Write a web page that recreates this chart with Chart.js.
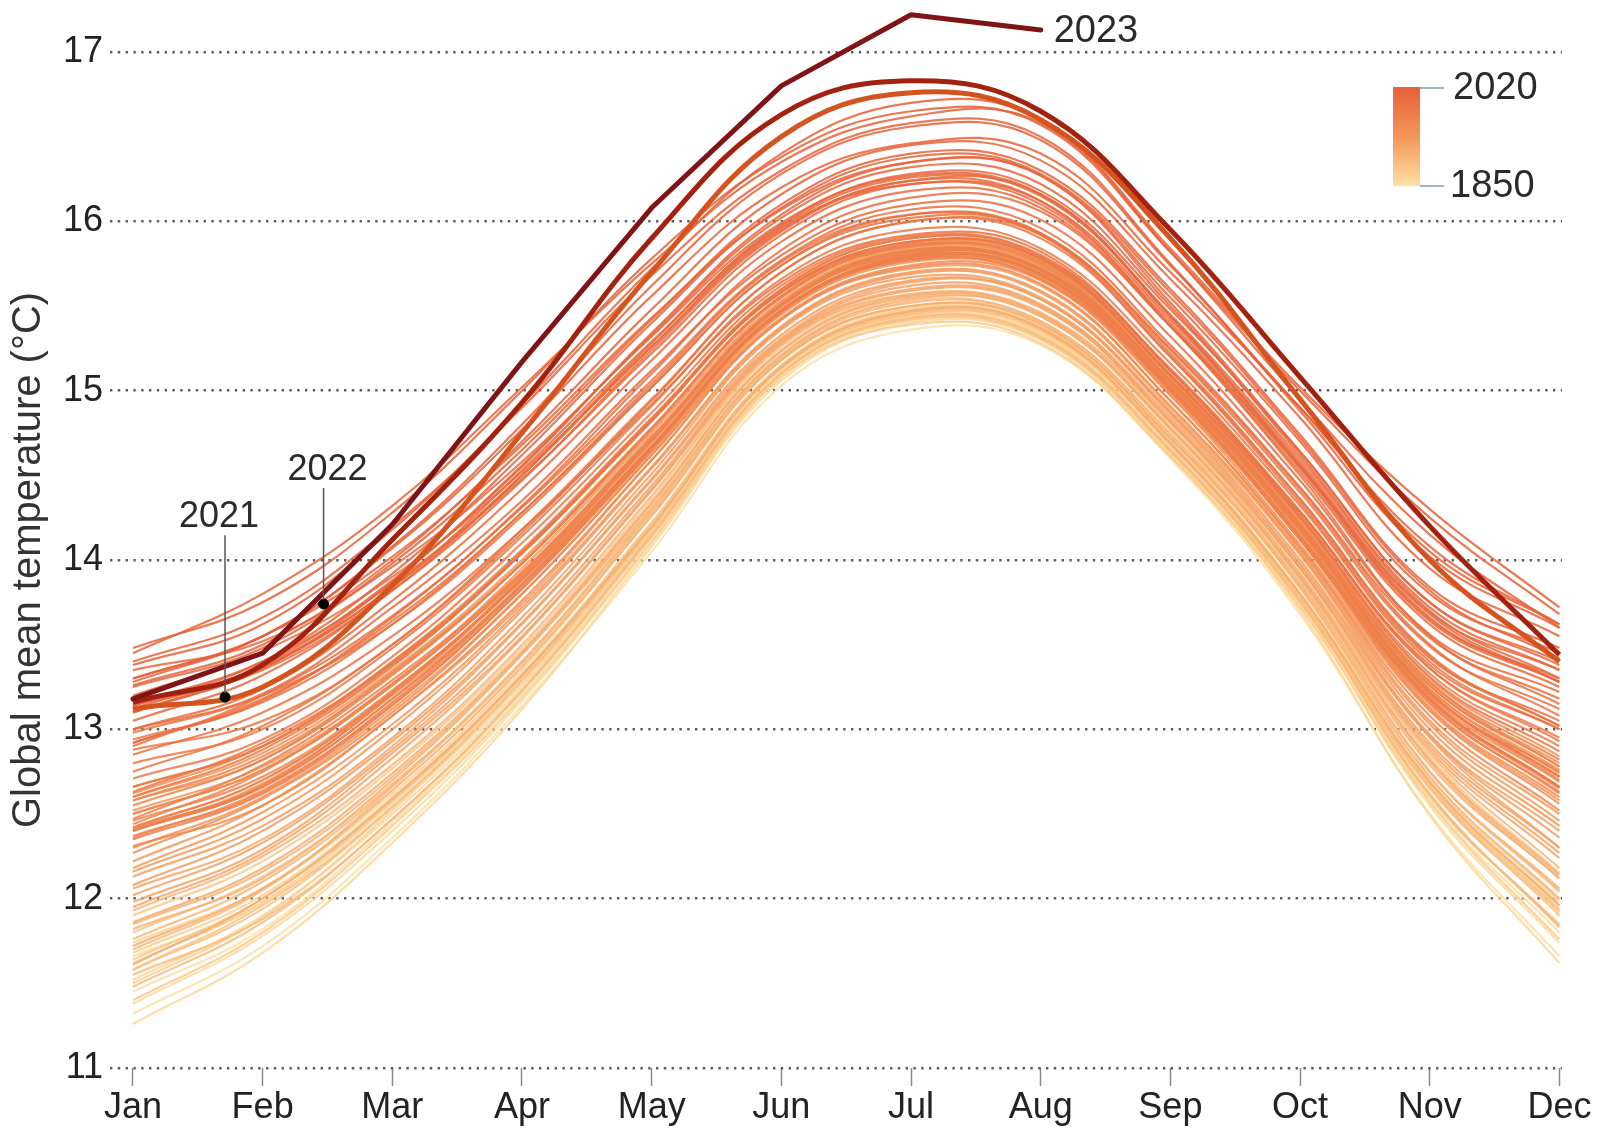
<!DOCTYPE html>
<html>
<head>
<meta charset="utf-8">
<script src="https://cdn.jsdelivr.net/npm/chart.js@4.4.0/dist/chart.umd.min.js"></script>
<style>
  html, body { margin: 0; padding: 0; background: #fff; }
  #wrap { width: 1598px; height: 1131px; }
</style>
</head>
<body>
<div id="wrap"><canvas id="chart" width="1598" height="1131"></canvas></div>
<script>
// Meses y escala
const months = ['Jan', 'Feb', 'Mar', 'Apr', 'May', 'Jun', 'Jul', 'Aug', 'Sep', 'Oct', 'Nov', 'Dec'];
const yTicks = [11, 12, 13, 14, 15, 16, 17];

// Temperatura media global mensual (°C), una curva por año (muestra de años)
const t1850 = [11.32, 11.72, 12.36, 13.14, 14.05, 15.03, 15.36, 15.27, 14.60, 13.68, 12.50, 11.66];
const t1852 = [11.45, 11.82, 12.45, 13.21, 14.13, 15.10, 15.43, 15.32, 14.65, 13.75, 12.58, 11.80];
const t1855 = [11.66, 11.97, 12.55, 13.30, 14.22, 15.13, 15.46, 15.37, 14.71, 13.80, 12.66, 11.98];
const t1857 = [11.38, 11.78, 12.40, 13.17, 14.10, 15.08, 15.41, 15.30, 14.63, 13.73, 12.55, 11.74];
const t1860 = [11.26, 11.68, 12.33, 13.12, 14.08, 15.06, 15.40, 15.30, 14.62, 13.70, 12.49, 11.62];
const t1862 = [11.52, 11.90, 12.50, 13.25, 14.16, 15.11, 15.44, 15.33, 14.66, 13.77, 12.60, 11.85];
const t1865 = [11.74, 12.06, 12.62, 13.35, 14.27, 15.18, 15.49, 15.38, 14.74, 13.83, 12.70, 11.99];
const t1868 = [11.68, 12.02, 12.60, 13.33, 14.22, 15.15, 15.47, 15.36, 14.69, 13.80, 12.68, 11.96];
const t1870 = [11.50, 11.89, 12.52, 13.27, 14.16, 15.11, 15.45, 15.34, 14.65, 13.78, 12.61, 11.84];
const t1873 = [11.62, 11.98, 12.57, 13.31, 14.20, 15.14, 15.46, 15.35, 14.68, 13.79, 12.66, 11.93];
const t1875 = [11.40, 11.80, 12.43, 13.19, 14.11, 15.08, 15.39, 15.28, 14.61, 13.72, 12.57, 11.76];
const t1878 = [11.90, 12.22, 12.77, 13.48, 14.36, 15.26, 15.57, 15.46, 14.80, 13.92, 12.84, 12.15];
const t1880 = [11.80, 12.13, 12.68, 13.40, 14.30, 15.21, 15.53, 15.41, 14.75, 13.88, 12.75, 12.04];
const t1882 = [11.64, 12.00, 12.58, 13.32, 14.22, 15.15, 15.48, 15.37, 14.70, 13.80, 12.67, 11.94];
const t1885 = [11.58, 11.96, 12.54, 13.29, 14.18, 15.13, 15.45, 15.36, 14.68, 13.78, 12.65, 11.92];
const t1888 = [11.58, 11.94, 12.54, 13.29, 14.19, 15.14, 15.46, 15.36, 14.68, 13.79, 12.66, 11.90];
const t1890 = [11.55, 11.88, 12.47, 13.23, 14.14, 15.10, 15.42, 15.31, 14.64, 13.75, 12.62, 11.83];
const t1893 = [11.48, 11.86, 12.47, 13.23, 14.15, 15.10, 15.43, 15.32, 14.65, 13.76, 12.61, 11.84];
const t1895 = [11.70, 12.05, 12.66, 13.39, 14.28, 15.19, 15.50, 15.40, 14.72, 13.86, 12.75, 12.05];
const t1898 = [11.76, 12.10, 12.67, 13.40, 14.29, 15.20, 15.52, 15.41, 14.74, 13.86, 12.75, 12.06];
const t1900 = [11.93, 12.25, 12.79, 13.50, 14.38, 15.27, 15.57, 15.46, 14.81, 13.92, 12.86, 12.18];
const t1902 = [11.85, 12.16, 12.72, 13.45, 14.33, 15.23, 15.55, 15.44, 14.78, 13.90, 12.81, 12.12];
const t1905 = [11.82, 12.12, 12.70, 13.44, 14.31, 15.21, 15.54, 15.44, 14.77, 13.89, 12.79, 12.12];
const t1908 = [11.72, 12.06, 12.64, 13.37, 14.26, 15.18, 15.50, 15.39, 14.72, 13.84, 12.72, 12.00];
const t1910 = [11.61, 12.00, 12.59, 13.32, 14.20, 15.14, 15.47, 15.37, 14.69, 13.80, 12.69, 11.96];
const t1912 = [11.86, 12.18, 12.74, 13.46, 14.34, 15.24, 15.56, 15.45, 14.78, 13.90, 12.82, 12.14];
const t1915 = [12.06, 12.35, 12.90, 13.62, 14.47, 15.31, 15.64, 15.54, 14.86, 13.98, 12.95, 12.30];
const t1918 = [11.95, 12.27, 12.83, 13.54, 14.41, 15.28, 15.59, 15.49, 14.82, 13.95, 12.88, 12.24];
const t1920 = [11.98, 12.29, 12.86, 13.55, 14.42, 15.29, 15.60, 15.50, 14.82, 13.95, 12.90, 12.27];
const t1922 = [12.02, 12.33, 12.88, 13.58, 14.44, 15.30, 15.62, 15.51, 14.84, 13.97, 12.92, 12.30];
const t1925 = [12.13, 12.43, 12.95, 13.66, 14.51, 15.36, 15.67, 15.55, 14.88, 14.03, 12.97, 12.40];
const t1928 = [12.08, 12.40, 12.93, 13.63, 14.48, 15.33, 15.65, 15.54, 14.87, 14.00, 12.96, 12.36];
const t1930 = [12.22, 12.55, 13.08, 13.74, 14.59, 15.42, 15.72, 15.62, 14.94, 14.07, 13.05, 12.50];
const t1932 = [12.16, 12.47, 13.00, 13.70, 14.54, 15.37, 15.69, 15.58, 14.90, 14.04, 13.00, 12.43];
const t1935 = [12.18, 12.51, 13.03, 13.72, 14.55, 15.38, 15.70, 15.59, 14.91, 14.05, 13.03, 12.46];
const t1937 = [12.30, 12.60, 13.12, 13.80, 14.62, 15.45, 15.76, 15.66, 14.98, 14.12, 13.12, 12.58];
const t1939 = [12.40, 12.68, 13.20, 13.86, 14.68, 15.48, 15.79, 15.70, 15.03, 14.17, 13.19, 12.66];
const t1940 = [12.52, 12.78, 13.27, 13.95, 14.75, 15.53, 15.84, 15.73, 15.05, 14.20, 13.24, 12.76];
const t1941 = [12.60, 12.86, 13.35, 14.00, 14.78, 15.55, 15.86, 15.76, 15.08, 14.22, 13.26, 12.80];
const t1943 = [12.50, 12.76, 13.26, 13.92, 14.72, 15.50, 15.82, 15.72, 15.04, 14.18, 13.22, 12.72];
const t1944 = [12.62, 12.90, 13.40, 14.04, 14.82, 15.60, 15.90, 15.80, 15.12, 14.26, 13.30, 12.84];
const t1945 = [12.58, 12.82, 13.34, 13.98, 14.77, 15.56, 15.85, 15.76, 15.08, 14.21, 13.28, 12.78];
const t1948 = [12.36, 12.64, 13.15, 13.83, 14.64, 15.46, 15.77, 15.67, 14.99, 14.12, 13.13, 12.60];
const t1950 = [12.27, 12.59, 13.10, 13.80, 14.62, 15.43, 15.74, 15.65, 14.97, 14.09, 13.11, 12.56];
const t1952 = [12.40, 12.66, 13.18, 13.85, 14.66, 15.47, 15.78, 15.68, 15.00, 14.13, 13.16, 12.62];
const t1953 = [12.50, 12.76, 13.26, 13.92, 14.72, 15.52, 15.83, 15.72, 15.04, 14.18, 13.22, 12.72];
const t1955 = [12.31, 12.55, 13.08, 13.76, 14.59, 15.42, 15.73, 15.63, 14.94, 14.07, 13.08, 12.52];
const t1957 = [12.42, 12.70, 13.22, 13.89, 14.70, 15.50, 15.81, 15.71, 15.05, 14.20, 13.24, 12.74];
const t1958 = [12.58, 12.84, 13.33, 13.98, 14.77, 15.55, 15.85, 15.74, 15.06, 14.19, 13.22, 12.72];
const t1960 = [12.44, 12.75, 13.27, 13.91, 14.71, 15.50, 15.81, 15.71, 15.04, 14.17, 13.20, 12.69];
const t1962 = [12.46, 12.72, 13.23, 13.89, 14.70, 15.50, 15.80, 15.69, 15.02, 14.15, 13.18, 12.66];
const t1963 = [12.42, 12.70, 13.22, 13.90, 14.71, 15.51, 15.82, 15.72, 15.06, 14.20, 13.22, 12.70];
const t1965 = [12.37, 12.63, 13.16, 13.85, 14.66, 15.47, 15.77, 15.66, 15.00, 14.12, 13.15, 12.63];
const t1967 = [12.40, 12.66, 13.18, 13.86, 14.67, 15.48, 15.78, 15.68, 15.01, 14.14, 13.17, 12.65];
const t1969 = [12.55, 12.82, 13.32, 13.98, 14.78, 15.56, 15.87, 15.77, 15.09, 14.24, 13.28, 12.82];
const t1970 = [12.47, 12.79, 13.29, 13.93, 14.73, 15.51, 15.83, 15.71, 15.03, 14.18, 13.21, 12.75];
const t1972 = [12.35, 12.62, 13.14, 13.83, 14.65, 15.47, 15.80, 15.72, 15.06, 14.22, 13.26, 12.78];
const t1973 = [12.66, 12.90, 13.38, 14.04, 14.82, 15.58, 15.86, 15.75, 15.06, 14.20, 13.22, 12.72];
const t1975 = [12.41, 12.67, 13.21, 13.88, 14.67, 15.47, 15.79, 15.69, 15.01, 14.14, 13.18, 12.66];
const t1977 = [12.66, 12.90, 13.40, 14.06, 14.84, 15.59, 15.88, 15.78, 15.10, 14.26, 13.33, 12.90];
const t1979 = [12.60, 12.88, 13.37, 14.05, 14.83, 15.60, 15.90, 15.79, 15.12, 14.28, 13.36, 12.95];
const t1980 = [12.71, 12.94, 13.43, 14.10, 14.87, 15.62, 15.91, 15.80, 15.13, 14.29, 13.36, 12.93];
const t1981 = [12.80, 13.00, 13.48, 14.14, 14.91, 15.66, 15.95, 15.84, 15.16, 14.32, 13.40, 13.00];
const t1983 = [12.88, 13.05, 13.50, 14.18, 14.95, 15.70, 16.00, 15.90, 15.20, 14.36, 13.44, 13.02];
const t1985 = [12.63, 12.92, 13.39, 14.04, 14.83, 15.58, 15.88, 15.78, 15.09, 14.25, 13.31, 12.87];
const t1987 = [12.75, 13.02, 13.50, 14.16, 14.94, 15.70, 16.00, 15.92, 15.25, 14.42, 13.50, 13.08];
const t1988 = [12.98, 13.20, 13.62, 14.26, 15.02, 15.74, 16.04, 15.93, 15.22, 14.36, 13.43, 13.02];
const t1990 = [12.94, 13.16, 13.62, 14.28, 15.02, 15.74, 16.02, 15.93, 15.24, 14.40, 13.49, 13.12];
const t1991 = [12.92, 13.18, 13.64, 14.28, 15.04, 15.76, 16.04, 15.92, 15.20, 14.34, 13.42, 13.05];
const t1992 = [12.85, 13.10, 13.55, 14.18, 14.92, 15.64, 15.92, 15.82, 15.12, 14.28, 13.38, 13.00];
const t1995 = [12.90, 13.20, 13.67, 14.31, 15.06, 15.77, 16.07, 15.96, 15.27, 14.43, 13.54, 13.18];
const t1997 = [12.92, 13.17, 13.66, 14.32, 15.10, 15.83, 16.14, 16.06, 15.38, 14.55, 13.65, 13.30];
const t1998 = [13.20, 13.46, 13.90, 14.52, 15.26, 15.95, 16.24, 16.12, 15.38, 14.50, 13.55, 13.15];
const t2000 = [13.00, 13.21, 13.72, 14.35, 15.12, 15.80, 16.10, 16.01, 15.32, 14.47, 13.56, 13.22];
const t2001 = [13.00, 13.24, 13.76, 14.42, 15.18, 15.88, 16.18, 16.08, 15.38, 14.52, 13.62, 13.25];
const t2002 = [13.15, 13.40, 13.86, 14.48, 15.22, 15.92, 16.22, 16.10, 15.40, 14.54, 13.64, 13.28];
const t2003 = [13.14, 13.35, 13.82, 14.47, 15.24, 15.94, 16.24, 16.16, 15.45, 14.60, 13.70, 13.30];
const t2004 = [13.10, 13.36, 13.84, 14.50, 15.26, 15.96, 16.22, 16.12, 15.42, 14.56, 13.68, 13.28];
const t2005 = [13.10, 13.37, 13.84, 14.53, 15.29, 15.97, 16.26, 16.15, 15.44, 14.58, 13.69, 13.35];
const t2006 = [13.05, 13.32, 13.82, 14.50, 15.28, 15.98, 16.28, 16.18, 15.48, 14.64, 13.75, 13.40];
const t2007 = [13.35, 13.52, 13.96, 14.58, 15.32, 15.99, 16.27, 16.16, 15.44, 14.56, 13.66, 13.28];
const t2009 = [13.12, 13.38, 13.88, 14.55, 15.34, 16.04, 16.35, 16.27, 15.55, 14.70, 13.80, 13.45];
const t2010 = [13.30, 13.55, 14.02, 14.68, 15.43, 16.07, 16.35, 16.27, 15.52, 14.64, 13.75, 13.38];
const t2011 = [13.10, 13.36, 13.87, 14.56, 15.33, 16.02, 16.32, 16.22, 15.50, 14.62, 13.72, 13.35];
const t2012 = [13.14, 13.40, 13.92, 14.62, 15.40, 16.08, 16.38, 16.28, 15.58, 14.72, 13.82, 13.42];
const t2013 = [13.25, 13.48, 13.98, 14.65, 15.42, 16.10, 16.40, 16.30, 15.60, 14.74, 13.84, 13.48];
const t2014 = [13.26, 13.50, 14.00, 14.70, 15.48, 16.16, 16.45, 16.36, 15.66, 14.84, 13.95, 13.55];
const t2015 = [13.28, 13.55, 14.07, 14.77, 15.56, 16.20, 16.46, 16.40, 15.70, 14.90, 14.05, 13.62];
const t2016 = [13.45, 13.80, 14.32, 15.02, 15.75, 16.35, 16.62, 16.58, 15.82, 14.95, 14.15, 13.60];
const t2017 = [13.40, 13.66, 14.20, 14.90, 15.68, 16.30, 16.58, 16.50, 15.75, 14.88, 14.02, 13.60];
const t2018 = [13.30, 13.55, 14.08, 14.80, 15.62, 16.28, 16.56, 16.48, 15.74, 14.90, 14.08, 13.62];
const t2019 = [13.38, 13.62, 14.18, 14.92, 15.72, 16.40, 16.70, 16.60, 15.84, 15.02, 14.30, 13.72];
const t2020 = [13.48, 13.75, 14.28, 15.00, 15.78, 16.38, 16.65, 16.57, 15.82, 15.00, 14.25, 13.68];

const bandYears = [1850, 1852, 1855, 1857, 1860, 1862, 1865, 1868, 1870, 1873, 1875, 1878, 1880,
  1882, 1885, 1888, 1890, 1893, 1895, 1898, 1900, 1902, 1905, 1908, 1910, 1912, 1915, 1918,
  1920, 1922, 1925, 1928, 1930, 1932, 1935, 1937, 1939, 1940, 1941, 1943, 1944, 1945, 1948,
  1950, 1952, 1953, 1955, 1957, 1958, 1960, 1962, 1963, 1965, 1967, 1969, 1970, 1972, 1973,
  1975, 1977, 1979, 1980, 1981, 1983, 1985, 1987, 1988, 1990, 1991, 1992, 1995, 1997, 1998,
  2000, 2001, 2002, 2003, 2004, 2005, 2006, 2007, 2009, 2010, 2011, 2012, 2013, 2014, 2015,
  2016, 2017, 2018, 2019, 2020];
const bandSeries = [t1850, t1852, t1855, t1857, t1860, t1862, t1865, t1868, t1870, t1873, t1875, t1878, t1880,
  t1882, t1885, t1888, t1890, t1893, t1895, t1898, t1900, t1902, t1905, t1908, t1910, t1912, t1915, t1918,
  t1920, t1922, t1925, t1928, t1930, t1932, t1935, t1937, t1939, t1940, t1941, t1943, t1944, t1945, t1948,
  t1950, t1952, t1953, t1955, t1957, t1958, t1960, t1962, t1963, t1965, t1967, t1969, t1970, t1972, t1973,
  t1975, t1977, t1979, t1980, t1981, t1983, t1985, t1987, t1988, t1990, t1991, t1992, t1995, t1997, t1998,
  t2000, t2001, t2002, t2003, t2004, t2005, t2006, t2007, t2009, t2010, t2011, t2012, t2013, t2014, t2015,
  t2016, t2017, t2018, t2019, t2020];

// Años destacados
const t2021 = [13.12, 13.25, 13.85, 14.75, 15.70, 16.50, 16.76, 16.60, 15.90, 14.95, 14.00, 13.40];
const t2022 = [13.16, 13.38, 14.12, 14.93, 15.90, 16.63, 16.83, 16.65, 15.95, 15.08, 14.20, 13.44];
const t2023 = [13.18, 13.45, 14.21, 15.17, 16.08, 16.80, 17.22, 17.13];

// Puntos de las etiquetas 2021 / 2022 (mes fraccional, °C)
const markerYears = ['2021', '2022'];
const markerX = [0.71, 1.47];
const markerY = [13.19, 13.74];

const FONT = '"Liberation Sans", Arial, sans-serif';

function pts(arr) {
  return arr.map((v, i) => ({ x: i, y: v }));
}

// Color de 1850 (amarillo claro) a 2020 (naranja rojizo)
function bandColor(year, alpha) {
  const stops = [[253, 224, 164], [244, 150, 88], [230, 96, 56]];
  const t = (year - 1850) / 170;
  const seg = t < 0.5 ? 0 : 1;
  const k = t < 0.5 ? t / 0.5 : (t - 0.5) / 0.5;
  const a = stops[seg], b = stops[seg + 1];
  const c = a.map((v, i) => Math.round(v + (b[i] - v) * k));
  return 'rgba(' + c[0] + ',' + c[1] + ',' + c[2] + ',' + (alpha || 0.85) + ')';
}

const datasets = bandSeries.map((arr, i) => ({
  label: String(bandYears[i]),
  data: pts(arr),
  borderColor: bandColor(bandYears[i]),
  borderWidth: 2.2,
  pointRadius: 0,
  tension: 0.4,
  order: 10 + (2020 - bandYears[i])
}));

datasets.push({
  label: '2021', data: pts(t2021), borderColor: '#d4531f', borderWidth: 5,
  pointRadius: 0, tension: 0.4, order: 3
});
datasets.push({
  label: '2022', data: pts(t2022), borderColor: '#a3220f', borderWidth: 5,
  pointRadius: 0, tension: 0.4, order: 2
});
datasets.push({
  label: '2023', data: pts(t2023), borderColor: '#7f1315', borderWidth: 5,
  pointRadius: 0, tension: 0, order: 1, clip: false, borderCapStyle: 'round', borderJoinStyle: 'round'
});
datasets.push({
  type: 'scatter',
  label: 'markers',
  data: markerX.map((x, i) => ({ x: x, y: markerY[i] })),
  backgroundColor: '#000',
  borderColor: '#000',
  pointRadius: 5,
  order: 0
});

// Etiquetas, líneas guía y leyenda de color
const decorations = {
  id: 'decorations',
  afterDatasetsDraw(chart) {
    const ctx = chart.ctx;
    const xs = chart.scales.x, ys = chart.scales.y;
    ctx.save();
    ctx.font = '36px ' + FONT;
    ctx.fillStyle = '#2a2a2a';
    ctx.textAlign = 'center';
    ctx.textBaseline = 'alphabetic';

    const leader = [162, 116];
    const labelDx = [-6, 4];
    markerYears.forEach((yr, i) => {
      const px = xs.getPixelForValue(markerX[i]);
      const py = ys.getPixelForValue(markerY[i]);
      ctx.strokeStyle = '#555';
      ctx.lineWidth = 1.5;
      ctx.beginPath();
      ctx.moveTo(px, py - 4);
      ctx.lineTo(px, py - leader[i]);
      ctx.stroke();
      ctx.fillText(yr, px + labelDx[i], py - leader[i] - 8);
    });

    // etiqueta 2023 al final de la línea
    const last = t2023.length - 1;
    const ex = xs.getPixelForValue(last);
    const ey = ys.getPixelForValue(t2023[last]);
    ctx.font = '38px ' + FONT;
    ctx.textAlign = 'left';
    ctx.textBaseline = 'middle';
    ctx.fillText('2023', ex + 13, ey + 2);

    // leyenda de color
    const bx = 1393, bw = 27, by = 87, bh = 99;
    const g = ctx.createLinearGradient(0, by, 0, by + bh);
    g.addColorStop(0, bandColor(2020, 1));
    g.addColorStop(0.5, bandColor(1935, 1));
    g.addColorStop(1, bandColor(1850, 1));
    ctx.fillStyle = g;
    ctx.fillRect(bx, by, bw, bh);
    ctx.strokeStyle = '#9fb3c2';
    ctx.lineWidth = 2;
    ctx.beginPath();
    ctx.moveTo(bx + bw, by + 1); ctx.lineTo(bx + bw + 24, by + 1);
    ctx.moveTo(bx + bw, by + bh); ctx.lineTo(bx + bw + 24, by + bh);
    ctx.stroke();
    ctx.fillStyle = '#2a2a2a';
    ctx.fillText(String(bandYears[bandYears.length - 1]), bx + bw + 33, by + 2);
    ctx.fillText(String(bandYears[0]), bx + bw + 30, by + bh + 1);
    ctx.restore();
  }
};

new Chart(document.getElementById('chart'), {
  type: 'line',
  data: { datasets: datasets },
  plugins: [decorations],
  options: {
    responsive: false,
    devicePixelRatio: 1,
    animation: false,
    layout: { padding: { top: 52, right: 36, left: 0, bottom: 0 } },
    plugins: {
      legend: { display: false },
      tooltip: { enabled: false }
    },
    scales: {
      x: {
        type: 'linear',
        min: -0.177,
        max: 11.02,
        afterFit(scale) { scale.height = 63; },
        grid: {
          drawOnChartArea: false,
          drawTicks: true,
          tickLength: 18,
          tickWidth: 1.5,
          tickColor: '#8a8a8a'
        },
        border: { display: false },
        ticks: {
          stepSize: 1,
          includeBounds: false,
          maxTicksLimit: 20,
          autoSkip: false,
          maxRotation: 0,
          padding: 0,
          color: '#222',
          font: { family: FONT, size: 36 },
          callback: (v) => Number.isInteger(v) ? months[v] : ''
        }
      },
      y: {
        min: yTicks[0],
        max: yTicks[yTicks.length - 1],
        afterFit(scale) { scale.width = 110; },
        grid: {
          drawTicks: false,
          color: '#5c5c5c',
          lineWidth: 2.4
        },
        border: { display: false, dash: [2.4, 5.4] },
        ticks: {
          stepSize: 1,
          padding: 7,
          color: '#222',
          font: { family: FONT, size: 36 }
        },
        title: {
          display: true,
          text: 'Global mean temperature (°C)',
          color: '#333',
          font: { family: FONT, size: 40 },
          padding: { top: 5, bottom: 0 }
        }
      }
    }
  }
});
</script>
</body>
</html>
